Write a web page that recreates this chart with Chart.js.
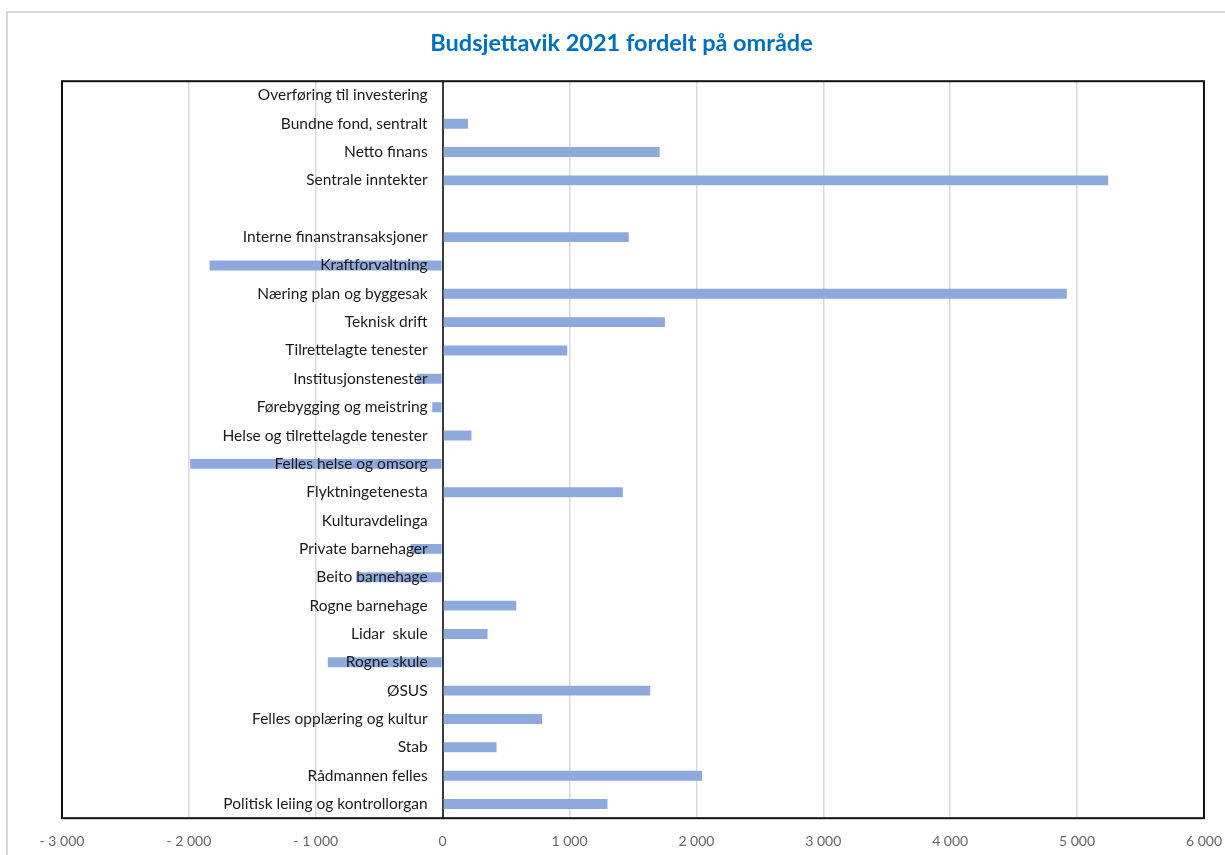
<!DOCTYPE html>
<html>
<head>
<meta charset="utf-8">
<script src="https://cdn.jsdelivr.net/npm/chart.js@4/dist/chart.umd.min.js"></script>
<style>
  html, body { margin: 0; padding: 0; background: #ffffff; }
  #wrap { width: 1225px; height: 855px; position: relative; }
</style>
</head>
<body>
<div id="wrap"><canvas id="c" width="1225" height="855"></canvas></div>
<script>
const categories = [
  "Overføring til investering",
  "Bundne fond, sentralt",
  "Netto finans",
  "Sentrale inntekter",
  "",
  "Interne finanstransaksjoner",
  "Kraftforvaltning",
  "Næring plan og byggesak",
  "Teknisk drift",
  "Tilrettelagte tenester",
  "Institusjonstenester",
  "Førebygging og meistring",
  "Helse og tilrettelagde tenester",
  "Felles helse og omsorg",
  "Flyktningetenesta",
  "Kulturavdelinga",
  "Private barnehager",
  "Beito barnehage",
  "Rogne barnehage",
  "Lidar  skule",
  "Rogne skule",
  "ØSUS",
  "Felles opplæring og kultur",
  "Stab",
  "Rådmannen felles",
  "Politisk leiing og kontrollorgan"
];
const budsjettavik = [
  0, 200, 1710, 5245, null, 1467, -1837, 4919, 1752, 982,
  -200, -82, 227, -1990, 1420, 0, -253, -681, 580, 354,
  -905, 1636, 784, 425, 2045, 1299
];
const xMin = -3000, xMax = 6000, xStep = 1000;
const chartTitle = "Budsjettavik 2021 fordelt på område";

function fmt(v) {
  const a = Math.abs(v).toString().replace(/\B(?=(\d{3})+(?!\d))/g, " ");
  return v < 0 ? "- " + a : a;
}

const framePlugin = {
  id: "frame",
  beforeDraw(chart) {
    const ctx = chart.ctx;
    ctx.save();
    ctx.strokeStyle = "#d9d9d9";
    ctx.lineWidth = 2;
    ctx.beginPath();
    ctx.moveTo(7, 900);
    ctx.lineTo(7, 12);
    ctx.lineTo(1300, 12);
    ctx.stroke();
    ctx.restore();
  },
  afterDatasetsDraw(chart) {
    const ctx = chart.ctx;
    const xs = chart.scales.x, ys = chart.scales.y;
    const x0 = xs.getPixelForValue(0);
    ctx.save();
    ctx.font = "15.5px Lato";
    ctx.fillStyle = "#1a1a1a";
    ctx.textAlign = "right";
    ctx.textBaseline = "middle";
    chart.data.labels.forEach((lab, i) => {
      ctx.fillText(lab, x0 - 15, ys.getPixelForValue(i));
    });
    ctx.restore();
  },
  afterDraw(chart) {
    const a = chart.chartArea;
    const ctx = chart.ctx;
    ctx.save();
    ctx.strokeStyle = "#111111";
    ctx.lineWidth = 2;
    ctx.strokeRect(a.left, a.top, a.right - a.left, a.bottom - a.top);
    ctx.restore();
  }
};

new Chart(document.getElementById("c"), {
  type: "bar",
  data: {
    labels: categories,
    datasets: [{
      label: "Budsjettavik",
      data: budsjettavik,
      backgroundColor: "#8eaadc",
      borderWidth: 0,
      categoryPercentage: 1,
      barPercentage: 0.35
    }]
  },
  options: {
    indexAxis: "y",
    responsive: false,
    animation: false,
    devicePixelRatio: 1,
    layout: { padding: { left: 32, right: 14, top: 0, bottom: 2 } },
    plugins: {
      legend: { display: false },
      tooltip: { enabled: false },
      title: {
        display: true,
        text: chartTitle,
        color: "#0070c0",
        font: { family: "Lato", size: 23.5, weight: "bold" },
        padding: { top: 29, bottom: 24 }
      }
    },
    scales: {
      x: {
        min: xMin,
        max: xMax,
        border: { display: false },
        grid: {
          drawTicks: true,
          tickLength: 12,
          tickColor: "rgba(0,0,0,0)",
          color: (c) => (c.tick && c.tick.value === 0) ? "#3a3a3a" : "#d9d9d9",
          lineWidth: (c) => (c.tick && c.tick.value === 0) ? 2 : 1.5
        },
        ticks: {
          stepSize: xStep,
          autoSkip: false,
          padding: 3,
          color: "#666666",
          font: { family: "Lato", size: 14 },
          callback: (v) => fmt(v)
        }
      },
      y: {
        display: true,
        grid: { display: false },
        border: { display: false },
        ticks: { display: false },
        afterFit: (s) => { s.width = 30; }
      }
    }
  },
  plugins: [framePlugin]
});
</script>
</body>
</html>
